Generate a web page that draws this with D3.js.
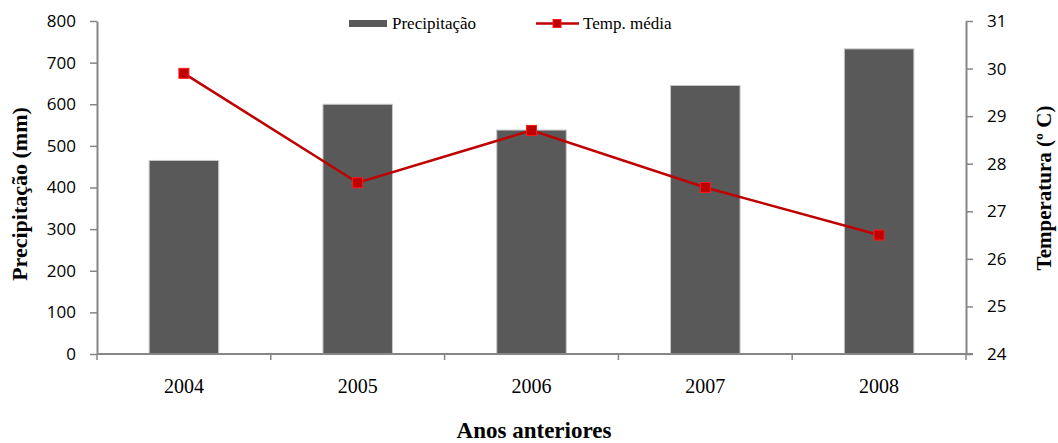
<!DOCTYPE html>
<html>
<head>
<meta charset="utf-8">
<script src="https://cdn.jsdelivr.net/npm/d3@7"></script>
<style>
  body { margin: 0; background: #fff; }
</style>
</head>
<body>
<div id="canevas"></div>
<script>
// données
let anos = ["2004", "2005", "2006", "2007", "2008"];
let precipitacao = [465, 600, 538, 645, 733];
let temperatura = [29.9, 27.6, 28.7, 27.5, 26.5];
let ticksPrec = [0, 100, 200, 300, 400, 500, 600, 700, 800];
let ticksTemp = [24, 25, 26, 27, 28, 29, 30, 31];

// canevas
let largeur = 1058;
let hauteur = 443;
let gauche = 97, droite = 966, haut = 21, bas = 354;

let canevas = d3.select("#canevas")
  .append("svg")
  .attr("width", largeur)
  .attr("height", hauteur);

canevas.append("rect")
  .attr("width", "100%")
  .attr("height", "100%")
  .attr("fill", "#ffffff");

// echelles
let echelleX = d3.scaleBand()
  .domain(anos)
  .range([gauche, droite])
  .paddingInner(0.6)
  .paddingOuter(0.3);

let echelleP = d3.scaleLinear().domain([0, 800]).range([bas, haut]);
let echelleT = d3.scaleLinear().domain([24, 31]).range([bas, haut]);

let gris = "#868686";
let sans = "'Open Sans', 'Liberation Sans', sans-serif";
let serif = "'Liberation Serif', 'DejaVu Serif', serif";

// barres
canevas.selectAll("rect.barre")
  .data(precipitacao)
  .enter()
  .append("rect")
    .attr("class", "barre")
    .attr("x", (d, i) => echelleX(anos[i]))
    .attr("y", d => echelleP(d))
    .attr("width", echelleX.bandwidth())
    .attr("height", d => bas - echelleP(d))
    .attr("fill", "#595959")
    .attr("stroke", "#c8c8c8")
    .attr("stroke-width", 1);

// axe gauche
let axeG = canevas.append("g")
  .attr("transform", `translate(${gauche},0)`)
  .call(d3.axisLeft(echelleP).tickValues(ticksPrec).tickSize(7).tickSizeOuter(0).tickPadding(14));

// axe droit
let axeD = canevas.append("g")
  .attr("transform", `translate(${droite},0)`)
  .call(d3.axisRight(echelleT).tickValues(ticksTemp).tickFormat(d3.format("d"))
    .tickSize(7).tickSizeOuter(0).tickPadding(14));

// axe x (ticks aux limites des catégories)
let pas = (droite - gauche) / anos.length;
let axeX = canevas.append("g");
axeX.append("line")
  .attr("x1", gauche).attr("x2", droite + 7)
  .attr("y1", bas).attr("y2", bas)
  .attr("stroke", gris).attr("stroke-width", 2);
axeX.selectAll("line.tick")
  .data(d3.range(anos.length + 1))
  .enter()
  .append("line")
    .attr("x1", i => gauche + i * pas).attr("x2", i => gauche + i * pas)
    .attr("y1", bas).attr("y2", bas + 6)
    .attr("stroke", gris).attr("stroke-width", 1.5);
axeX.selectAll("text")
  .data(anos)
  .enter()
  .append("text")
    .attr("x", d => echelleX(d) + echelleX.bandwidth() / 2)
    .attr("y", 393)
    .attr("text-anchor", "middle")
    .attr("font-family", serif)
    .attr("font-size", 20)
    .attr("fill", "#000")
    .text(d => d);

[axeG, axeD].forEach(a => {
  a.select(".domain").attr("stroke", gris).attr("stroke-width", 2);
  a.selectAll(".tick line").attr("stroke", gris).attr("stroke-width", 1.5);
  a.selectAll(".tick text")
    .attr("font-family", sans)
    .attr("font-size", 17)
    .attr("fill", "#000");
});

// ligne température
let ligne = d3.line()
  .x((d, i) => echelleX(anos[i]) + echelleX.bandwidth() / 2)
  .y(d => echelleT(d));

canevas.append("path")
  .datum(temperatura)
  .attr("d", ligne)
  .attr("fill", "none")
  .attr("stroke", "#c00000")
  .attr("stroke-width", 2.5);

canevas.selectAll("rect.marque")
  .data(temperatura)
  .enter()
  .append("rect")
    .attr("class", "marque")
    .attr("x", (d, i) => echelleX(anos[i]) + echelleX.bandwidth() / 2 - 5)
    .attr("y", d => echelleT(d) - 5)
    .attr("width", 10)
    .attr("height", 10)
    .attr("fill", "#c00000")
    .attr("stroke", "#ff1a1a")
    .attr("stroke-width", 1);

// titres des axes
canevas.append("text")
  .attr("transform", "translate(27,194) rotate(-90)")
  .attr("text-anchor", "middle")
  .attr("font-family", serif)
  .attr("font-weight", "bold")
  .attr("font-size", 22)
  .text("Precipitação (mm)");

canevas.append("text")
  .attr("transform", "translate(1051,188) rotate(-90)")
  .attr("text-anchor", "middle")
  .attr("font-family", serif)
  .attr("font-weight", "bold")
  .attr("font-size", 21)
  .text("Temperatura (º C)");

canevas.append("text")
  .attr("x", 534)
  .attr("y", 438)
  .attr("text-anchor", "middle")
  .attr("font-family", serif)
  .attr("font-weight", "bold")
  .attr("font-size", 23)
  .text("Anos anteriores");

// légende
let legende = canevas.append("g").attr("font-family", serif).attr("font-size", 17);
legende.append("rect")
  .attr("x", 349).attr("y", 20).attr("width", 38).attr("height", 7)
  .attr("fill", "#595959");
legende.append("text").attr("x", 392).attr("y", 29).text("Precipitação");
legende.append("line")
  .attr("x1", 536).attr("x2", 579).attr("y1", 23.5).attr("y2", 23.5)
  .attr("stroke", "#c00000").attr("stroke-width", 2.5);
legende.append("rect")
  .attr("x", 553).attr("y", 19.5).attr("width", 8).attr("height", 8)
  .attr("fill", "#c00000").attr("stroke", "#ff1a1a");
legende.append("text").attr("x", 583).attr("y", 29).text("Temp. média");
</script>
</body>
</html>
